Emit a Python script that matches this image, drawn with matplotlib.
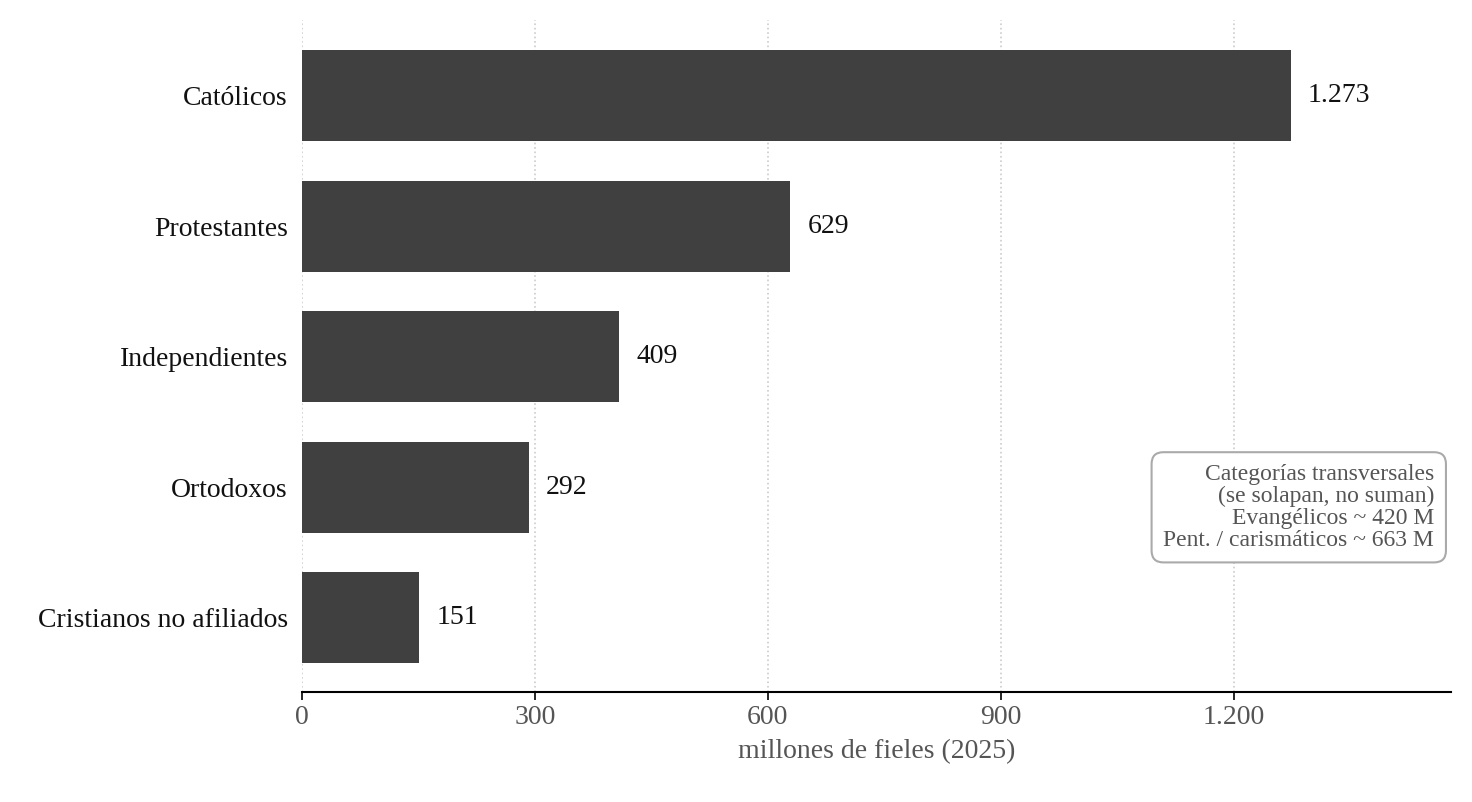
import matplotlib.pyplot as plt

categories = ["Católicos", "Protestantes", "Independientes", "Ortodoxos", "Cristianos no afiliados"]
values = [1273, 629, 409, 292, 151]
value_labels = ["1.273", "629", "409", "292", "151"]
xticks = [0, 300, 600, 900, 1200]
xtick_labels = ["0", "300", "600", "900", "1.200"]

plt.rcParams["font.family"] = ["Liberation Serif", "DejaVu Serif"]

fig = plt.figure(figsize=(14.72, 8.02), dpi=100)
ax = fig.add_axes([0.205, 0.137, 0.781, 0.838])

y = list(range(len(categories)))
ax.barh(y, values, height=0.7, color="#404040", zorder=3)
for yi, v, lab in zip(y, values, value_labels):
    ax.text(v + 22, yi, lab, va="center", ha="left", fontsize=20, color="#111111")

ax.set_yticks(y)
ax.set_yticklabels(categories, fontsize=20, color="#111111")
ax.set_ylim(4.57, -0.58)
ax.set_xlim(0, 1480)
ax.set_xticks(xticks)
ax.set_xticklabels(xtick_labels, fontsize=20, color="#555555")
ax.set_xlabel("millones de fieles (2025)", fontsize=20, color="#555555", labelpad=6)

ax.grid(axis="x", linestyle=":", color="#cccccc", linewidth=1.2, zorder=0)
for s in ["left", "top", "right"]:
    ax.spines[s].set_visible(False)
ax.spines["bottom"].set_linewidth(1.5)
ax.tick_params(axis="y", length=0, pad=10)
ax.tick_params(axis="x", length=6, width=1.2)

ax.text(0.985, 0.275,
        "Categorías transversales\n(se solapan, no suman)\nEvangélicos ~ 420 M\nPent. / carismáticos ~ 663 M",
        transform=ax.transAxes, ha="right", va="center", fontsize=17, color="#555555",
        linespacing=1.05,
        bbox=dict(boxstyle="round,pad=0.5", facecolor="white", edgecolor="#aaaaaa", linewidth=1.5))

fig.savefig("out.png", dpi=100)
